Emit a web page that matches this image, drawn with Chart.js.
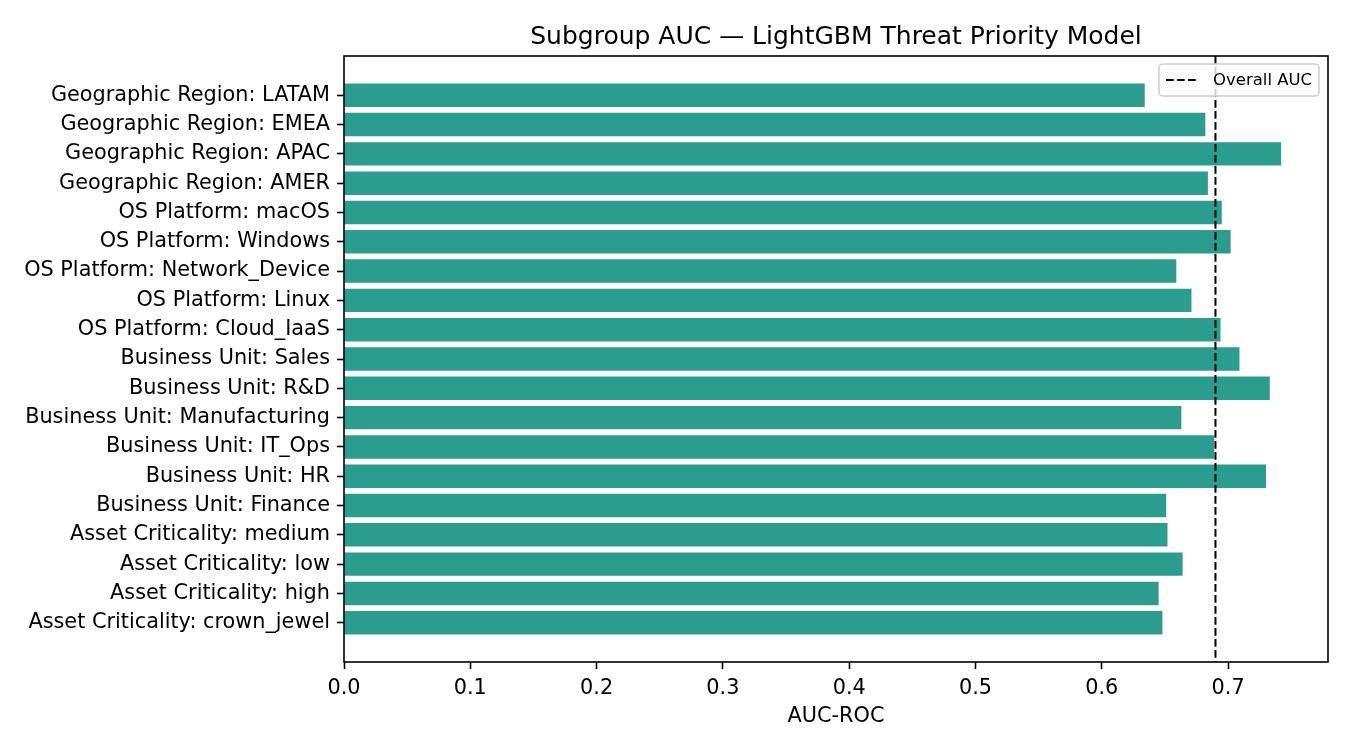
<!DOCTYPE html>
<html>
<head>
<meta charset="utf-8">
<script src="https://cdn.jsdelivr.net/npm/chart.js@4.4.1/dist/chart.umd.min.js"></script>
<style>
  html, body { margin: 0; padding: 0; background: #fff; }
  #wrap { width: 1350px; height: 750px; }
</style>
</head>
<body>
<div id="wrap"><canvas id="aucChart" width="1350" height="750"></canvas></div>
<script>
// subgroups listed bottom -> top (bar index = y position, like barh)
const subgroups = [
  "Asset Criticality: crown_jewel",
  "Asset Criticality: high",
  "Asset Criticality: low",
  "Asset Criticality: medium",
  "Business Unit: Finance",
  "Business Unit: HR",
  "Business Unit: IT_Ops",
  "Business Unit: Manufacturing",
  "Business Unit: R&D",
  "Business Unit: Sales",
  "OS Platform: Cloud_IaaS",
  "OS Platform: Linux",
  "OS Platform: Network_Device",
  "OS Platform: Windows",
  "OS Platform: macOS",
  "Geographic Region: AMER",
  "Geographic Region: APAC",
  "Geographic Region: EMEA",
  "Geographic Region: LATAM"
];
const aucValues = [
  0.648, 0.645, 0.664, 0.652,
  0.651, 0.730, 0.689, 0.663, 0.733, 0.709,
  0.694, 0.671, 0.659, 0.702, 0.695,
  0.684, 0.742, 0.682, 0.634
];
const overallAuc = 0.690;
const xTickValues = [0.0, 0.1, 0.2, 0.3, 0.4, 0.5, 0.6, 0.7];
const chartTitle = "Subgroup AUC \u2014 LightGBM Threat Priority Model";

const FONT = "'DejaVu Sans', sans-serif";
const barColor = "#2a9d8f";

// matplotlib-like limits: 5% margins around the data extent
const n = subgroups.length;
const ySpan = (n - 1) + 0.8;
const yMin = -0.4 - 0.05 * ySpan;
const yMax = (n - 1) + 0.4 + 0.05 * ySpan;
const xMax = Math.max(...aucValues) * 1.05;

const barData = aucValues.map((v, i) => ({ x: v, y: i }));

// dashed overall line + axes frame, drawn over the bars
const overlayPlugin = {
  id: "overlay",
  afterDatasetsDraw(chart) {
    const { ctx, chartArea, scales } = chart;
    const px = scales.x.getPixelForValue(overallAuc);
    ctx.save();
    ctx.strokeStyle = "#000";
    ctx.lineWidth = 2;
    ctx.setLineDash([7.7, 3.3]);
    ctx.beginPath();
    ctx.moveTo(px, chartArea.top);
    ctx.lineTo(px, chartArea.bottom);
    ctx.stroke();
    ctx.setLineDash([]);
    ctx.lineWidth = 1.6;
    ctx.strokeRect(chartArea.left, chartArea.top,
      chartArea.right - chartArea.left, chartArea.bottom - chartArea.top);
    ctx.restore();
  },
  afterDraw(chart) {
    const { ctx, chartArea } = chart;
    ctx.save();
    // title centred over the axes
    ctx.fillStyle = "#000";
    ctx.font = "25px " + FONT;
    ctx.textAlign = "center";
    ctx.textBaseline = "alphabetic";
    ctx.fillText(chartTitle, (chartArea.left + chartArea.right) / 2, chartArea.top - 12.5);

    // legend box, upper right
    const w = 160, h = 32;
    const x0 = chartArea.right - 9 - w;
    const y0 = chartArea.top + 8;
    ctx.fillStyle = "rgba(255,255,255,0.8)";
    ctx.strokeStyle = "#cccccc";
    ctx.lineWidth = 1.5;
    ctx.beginPath();
    ctx.roundRect(x0, y0, w, h, 4);
    ctx.fill();
    ctx.stroke();
    const cy = y0 + h / 2;
    ctx.strokeStyle = "#000";
    ctx.lineWidth = 2;
    ctx.setLineDash([7.7, 3.3]);
    ctx.beginPath();
    ctx.moveTo(x0 + 7, cy);
    ctx.lineTo(x0 + 38, cy);
    ctx.stroke();
    ctx.setLineDash([]);
    ctx.fillStyle = "#000";
    ctx.font = "16.5px " + FONT;
    ctx.textBaseline = "middle";
    ctx.textAlign = "left";
    ctx.fillText("Overall AUC", x0 + 54, cy + 1);
    ctx.restore();
  }
};

const ctx = document.getElementById("aucChart").getContext("2d");
const chart = new Chart(ctx, {
  type: "bar",
  data: {
    datasets: [{
      label: "Subgroup AUC",
      data: barData,
      backgroundColor: barColor,
      borderWidth: 0,
      barPercentage: 0.8,
      categoryPercentage: 1.0
    }]
  },
  options: {
    indexAxis: "y",
    responsive: false,
    animation: false,
    layout: { padding: { left: 0, right: 22, top: 56, bottom: 0 } },
    plugins: {
      legend: { display: false },
      tooltip: { enabled: false },
      title: { display: false }
    },
    scales: {
      x: {
        type: "linear",
        min: 0,
        max: xMax,
        afterBuildTicks: (scale) => {
          scale.ticks = xTickValues.map(v => ({ value: v }));
        },
        afterFit: (scale) => { scale.height = 88; },
        ticks: {
          color: "#000",
          font: { family: FONT, size: 20.8 },
          padding: 7,
          maxRotation: 0,
          callback: (v) => Number(v).toFixed(1)
        },
        grid: {
          display: true,
          drawOnChartArea: false,
          drawTicks: true,
          tickLength: 7,
          tickWidth: 1.6,
          tickColor: "#000"
        },
        border: { display: false },
        title: {
          display: true,
          text: "AUC-ROC",
          color: "#000",
          font: { family: FONT, size: 20.8 },
          padding: { top: 0, bottom: 21 }
        }
      },
      y: {
        type: "linear",
        offset: false,
        min: yMin,
        max: yMax,
        afterBuildTicks: (scale) => {
          scale.ticks = subgroups.map((_, i) => ({ value: i }));
        },
        afterFit: (scale) => { scale.width = 344; },
        ticks: {
          color: "#000",
          font: { family: FONT, size: 20.8 },
          padding: 7,
          callback: (v) => subgroups[v]
        },
        grid: {
          display: true,
          offset: false,
          drawOnChartArea: false,
          drawTicks: true,
          tickLength: 7,
          tickWidth: 1.6,
          tickColor: "#000"
        },
        border: { display: false }
      }
    }
  },
  plugins: [overlayPlugin]
});
</script>
</body>
</html>
